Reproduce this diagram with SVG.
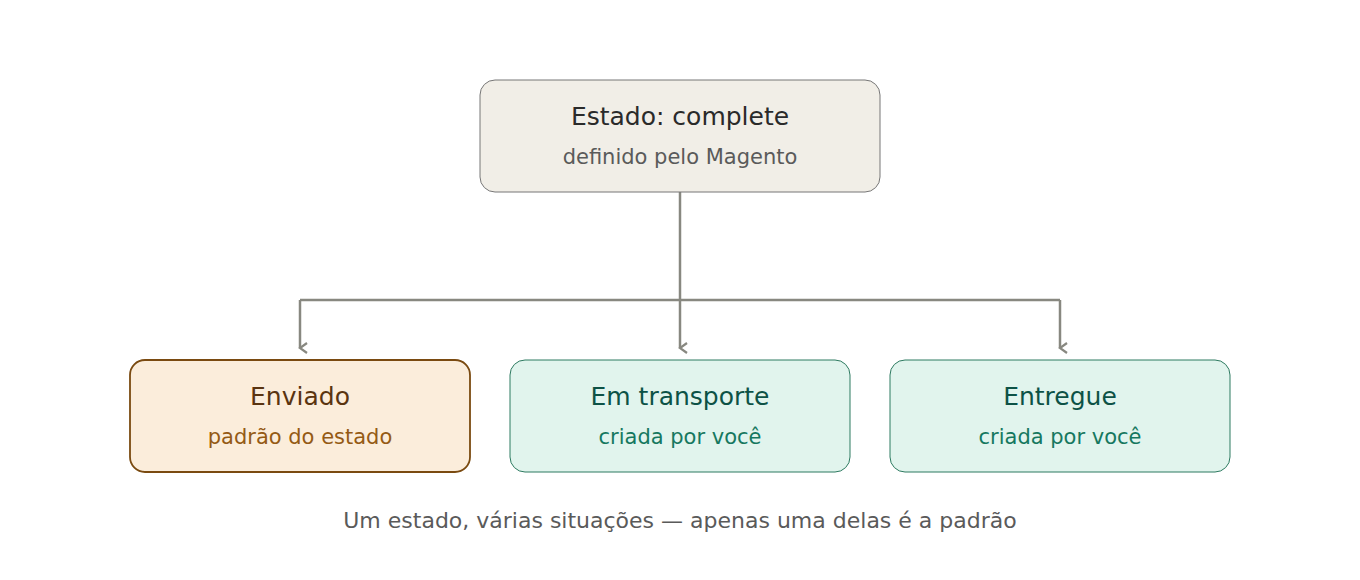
<svg xmlns="http://www.w3.org/2000/svg" width="1360" height="580" viewBox="0 0 1360 580">
<style>
text{font-family:"DejaVu Sans",sans-serif;text-anchor:middle}
.t{font-size:25px}.s{font-size:21px}
.c{fill:none;stroke:#888880;stroke-width:2.5}
</style>
<defs><marker id="a" viewBox="0 0 12 12" refX="6" refY="10" markerWidth="12" markerHeight="12" markerUnits="userSpaceOnUse" orient="auto-start-reverse"><path d="M1 3 L6 10 L11 3" fill="none" stroke="#888880" stroke-width="2.2"/></marker></defs>
<rect width="1360" height="580" fill="#fff"/>
<g id="connectors">
<line class="c" x1="680" y1="192" x2="680" y2="348" marker-end="url(#a)"/>
<line class="c" x1="300" y1="300" x2="1060" y2="300"/>
<line class="c" x1="300" y1="300" x2="300" y2="348" marker-end="url(#a)"/>
<line class="c" x1="1060" y1="300" x2="1060" y2="348" marker-end="url(#a)"/>
</g>
<g id="estado"><rect x="480" y="80" width="400" height="112" rx="15" fill="#f1eee7" stroke="#777"/>
<text class="t" x="680" y="125" fill="#2a2a2a">Estado: complete</text><text class="s" x="680" y="164" fill="#5a5a5a">definido pelo Magento</text></g>
<g id="enviado"><rect x="130" y="360" width="340" height="112" rx="15" fill="#fbeddb" stroke="#7a4a10" stroke-width="1.8"/>
<text class="t" x="300" y="405" fill="#5a3410">Enviado</text><text class="s" x="300" y="444" fill="#945a14">padrão do estado</text></g>
<g id="transporte"><rect x="510" y="360" width="340" height="112" rx="15" fill="#e1f4ed" stroke="#2d7a60"/>
<text class="t" x="680" y="405" fill="#0d5246">Em transporte</text><text class="s" x="680" y="444" fill="#16785f">criada por você</text></g>
<g id="entregue"><rect x="890" y="360" width="340" height="112" rx="15" fill="#e1f4ed" stroke="#2d7a60"/>
<text class="t" x="1060" y="405" fill="#0d5246">Entregue</text><text class="s" x="1060" y="444" fill="#16785f">criada por você</text></g>
<text class="s" x="680" y="528" fill="#5a5a5a" style="font-size:22px">Um estado, várias situações — apenas uma delas é a padrão</text>
</svg>
